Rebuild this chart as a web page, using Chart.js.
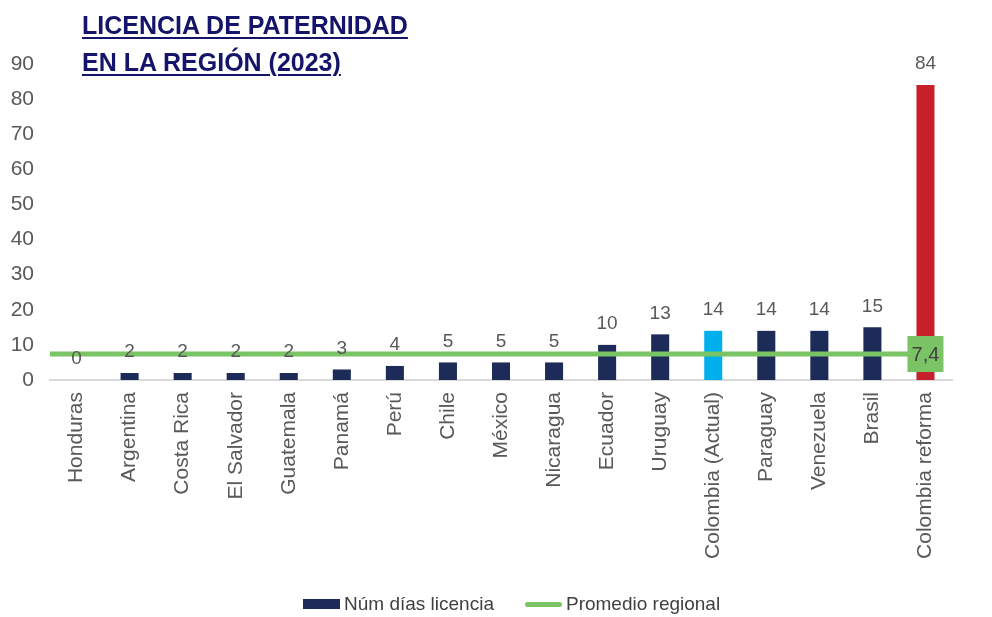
<!DOCTYPE html>
<html>
<head>
<meta charset="utf-8">
<script src="https://cdn.jsdelivr.net/npm/chart.js@4/dist/chart.umd.min.js"></script>
<style>
  html, body { margin: 0; padding: 0; background: #fff; }
  #wrap { position: relative; width: 992px; height: 617px; }
  #title {
    position: absolute; left: 82px; top: 7px;
    font-family: "Liberation Sans", Arial, sans-serif;
    font-weight: bold; font-size: 25px; line-height: 37px;
    color: #14146a; text-decoration: underline;
    text-decoration-thickness: 2px; text-underline-offset: 3px;
  }
  #legend {
    position: absolute; left: 303px; top: 591px; height: 26px;
    display: flex; align-items: center;
    font-family: "Liberation Sans", Arial, sans-serif; font-size: 19px; color: #404040;
  }
  #legend .item { display: flex; align-items: center; margin-right: 31px; }
  #legend .swatch { display: inline-block; width: 37px; margin-right: 4px; }
</style>
</head>
<body>
<div id="wrap">
  <canvas id="chart" width="992" height="617"></canvas>
  <div id="title">LICENCIA DE PATERNIDAD<br>EN LA REGIÓN (2023)</div>
  <div id="legend"></div>
</div>
<script>
// ==== Data ====
const paises = ["Honduras", "Argentina", "Costa Rica", "El Salvador", "Guatemala", "Panamá", "Perú",
  "Chile", "México", "Nicaragua", "Ecuador", "Uruguay", "Colombia (Actual)", "Paraguay",
  "Venezuela", "Brasil", "Colombia reforma"];
const diasLicencia = [0, 2, 2, 2, 2, 3, 4, 5, 5, 5, 10, 13, 14, 14, 14, 15, 84];
const promedioRegional = 7.4;
const yTicks = [0, 10, 20, 30, 40, 50, 60, 70, 80, 90];

// ==== Colors ====
const NAVY = "#1c2b58";
const CYAN = "#00b0ec";
const RED = "#c8202a";
const GREEN = "#7bc465";
const GRAY_TEXT = "#595959";

const barColors = paises.map(p =>
  p === "Colombia (Actual)" ? CYAN : p === "Colombia reforma" ? RED : NAVY);

// line runs from the left edge of the plot to the last category
const lineaPromedio = [
  { x: -0.5, y: promedioRegional },
  { x: paises.length - 1, y: promedioRegional }
];

// ==== Labels plugin ====
const valueLabels = {
  id: "valueLabels",
  afterDatasetsDraw(chart) {
    const ctx = chart.ctx;
    ctx.save();
    // bar values
    const barMeta = chart.getDatasetMeta(0);
    ctx.font = "19px 'Liberation Sans Narrow', 'Liberation Sans', sans-serif";
    ctx.fillStyle = GRAY_TEXT;
    ctx.textAlign = "center";
    ctx.textBaseline = "middle";
    barMeta.data.forEach((bar, i) => {
      ctx.fillText(String(diasLicencia[i]), bar.x, bar.y - 21);
    });
    // average label on the last point
    const lineMeta = chart.getDatasetMeta(1);
    const last = lineMeta.data[lineMeta.data.length - 1];
    ctx.fillStyle = GREEN;
    ctx.fillRect(last.x - 18, last.y - 18, 36, 36);
    ctx.fillStyle = "#404040";
    ctx.font = "20px 'Liberation Sans Narrow', 'Liberation Sans', sans-serif";
    ctx.fillText(promedioRegional.toFixed(1).replace(".", ","), last.x, last.y + 1);
    ctx.restore();
  }
};

const chart = new Chart(document.getElementById("chart"), {
  data: {
    labels: paises,
    datasets: [
      {
        type: "bar",
        label: "Núm días licencia",
        data: diasLicencia,
        backgroundColor: barColors,
        grouped: false,
        barPercentage: 0.34,
        categoryPercentage: 1,
        order: 1
      },
      {
        type: "line",
        label: "Promedio regional",
        data: lineaPromedio,
        xAxisID: "xLine",
        borderColor: GREEN,
        borderWidth: 5,
        pointRadius: 0,
        fill: false,
        order: 0
      }
    ]
  },
  options: {
    responsive: false,
    animation: false,
    layout: { padding: { top: 64, right: 40, left: 0, bottom: 41 } },
    plugins: {
      tooltip: { enabled: false },
      legend: { display: false }
    },
    scales: {
      x: {
        type: "category",
        offset: true,
        grid: { display: false, drawTicks: false },
        border: { display: true, color: "#d9d9d9", width: 2 },
        ticks: {
          autoSkip: false,
          maxRotation: 90,
          minRotation: 90,
          padding: 12,
          color: GRAY_TEXT,
          font: { family: "'Liberation Sans', sans-serif", size: 21 }
        },
        afterFit: scale => { scale.height = 196; }
      },
      xLine: {
        type: "linear",
        display: false,
        min: -0.5,
        max: paises.length - 0.5
      },
      y: {
        min: 0,
        max: 90,
        afterBuildTicks: scale => { scale.ticks = yTicks.map(v => ({ value: v })); },
        grid: { display: false, drawTicks: false },
        border: { display: false },
        ticks: {
          padding: 16,
          color: GRAY_TEXT,
          font: { family: "'Liberation Sans Narrow', 'Liberation Sans', sans-serif", size: 21 }
        },
        afterFit: scale => { scale.width = 50; }
      }
    }
  },
  plugins: [valueLabels]
});

// ==== Legend ====
const legendEl = document.getElementById("legend");
chart.data.datasets.forEach(ds => {
  const item = document.createElement("span");
  item.className = "item";
  const sw = document.createElement("span");
  sw.className = "swatch";
  if (ds.type === "bar") {
    sw.style.height = "10px";
    sw.style.background = NAVY;
  } else {
    sw.style.height = "5px";
    sw.style.borderRadius = "3px";
    sw.style.background = GREEN;
  }
  item.appendChild(sw);
  item.appendChild(document.createTextNode(ds.label));
  legendEl.appendChild(item);
});
</script>
</body>
</html>
